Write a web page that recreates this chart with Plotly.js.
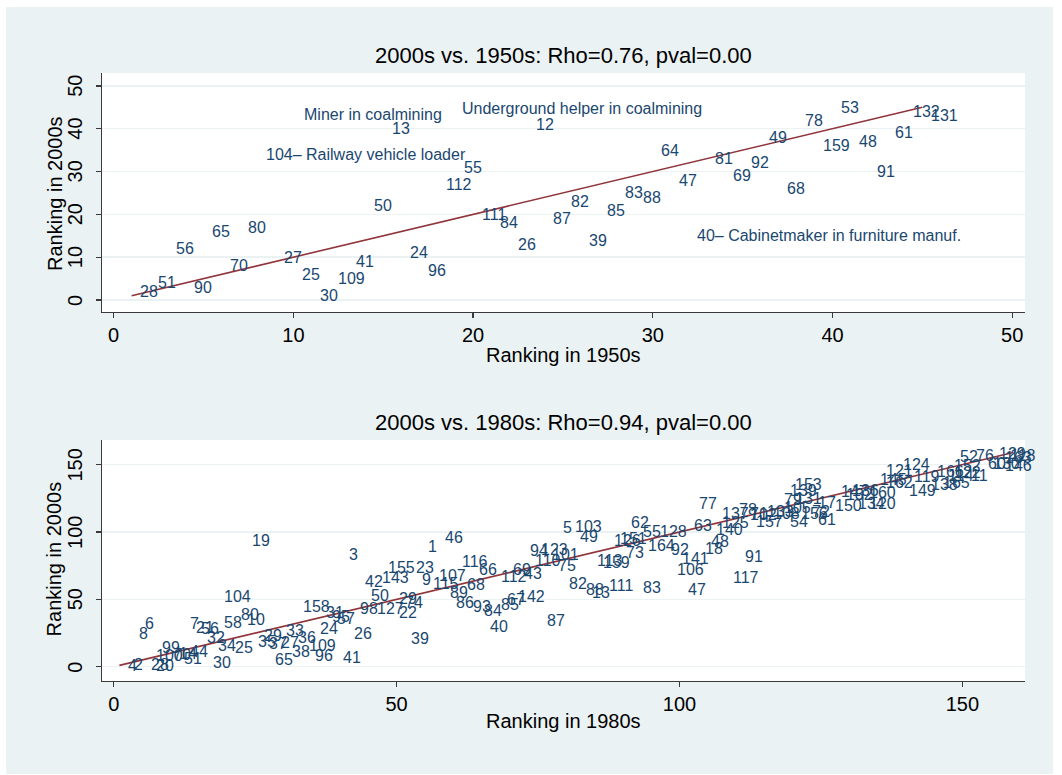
<!DOCTYPE html>
<html>
<head>
<meta charset="utf-8">
<script src="https://cdn.plot.ly/plotly-3.0.1.min.js"></script>
<style>
html,body{margin:0;padding:0;background:#ffffff;}
#chart{position:absolute;left:6px;top:7px;width:1047px;height:767px;}
</style>
</head>
<body>
<div id="chart"></div>
<script>
// ---------- Panel 1: 2000s vs 1950s ----------
const title1 = "2000s vs. 1950s: Rho=0.76, pval=0.00";
const xTitle1 = "Ranking in 1950s";
const codes1 = ["28","51","90","56","65","80","70","27","25","30","109","41","50","13",
  "104\u2013 Railway vehicle loader","24","96","112","55","111","84","26","12","87","82","39","85",
  "83","88","64","47","40\u2013 Cabinetmaker in furniture manuf.","81","69","92","49","68","78",
  "159","53","48","91","61","132","131"];
const rank1950 = [1,2,4,3,5,7,6,9,10,11,12,13,14,15,8,16,17,18,19,20,21,22,23,24,25,26,27,28,29,30,31,32,33,34,35,36,37,38,39,40,41,42,43,44,45];
const rank2000a = [2,4,3,12,16,17,8,10,6,1,5,9,22,40,34,11,7,27,31,20,18,13,41,19,23,14,21,25,24,35,28,15,33,29,32,38,26,42,36,45,37,30,39,44,43];
const notes1 = ["Miner in coalmining","Underground helper in coalmining"];
const notesX1 = [10.1, 18.9];
const notesY1 = [43.2, 44.6];
const lineX1 = [1, 45];
const lineY1 = [1, 45];

// ---------- Panel 2: 2000s vs 1980s ----------
const title2 = "2000s vs. 1980s: Rho=0.94, pval=0.00";
const xTitle2 = "Ranking in 1980s";
const yTitle = "Ranking in 2000s";
const yTicks1 = [0,10,20,30,40,50];
const yTicks2 = [0,50,100,150];
const codes2 = ["19","104","80","58","10","6","8","7","21","56","32","34","25","30","4","2","28","20","99","100","70","14","44","51",
  "3","1","46","155","23","143","42","9","107","50","127","29","74","22","158","31","95","57","98","24","26","39","109","38","96","41","65","36","33","35","29","37","27",
  "5","103","49","94","123","110","101","75","116","66","115","68","112","69","43","89","86","93","84","85","67","142","40","87","82","88","13","111","113","159","73",
  "62","126","151","55","128","164","92","63","77","141","106","47","18","48","91","117","83","140","125","137","78","71","102","133","157","108","54","105","79",
  "153","139","131","17","72","156","61","150","147","136","132","134","120","160","121","124","162","145","149","119","138","165","114","122","11","166","152",
  "52","76","60","130","129","118","146","163"];
const rank1980 = [23,18,21,18,22,4,3,12,13,14,15,17,20,16,1,2,5,6,7,6,9,10,12,11,
  40,54,57,47,52,46,43,53,56,44,45,49,50,49,32,36,37,38,42,35,41,51,33,30,34,39,27,31,29,24,25,26,28,
  78,80,81,72,74,73,76,77,60,63,55,61,67,69,71,58,59,62,64,67,68,70,65,75,79,82,83,86,84,85,89,
  90,87,88,92,95,93,97,101,102,99,98,100,103,104,110,108,92,105,106,106,109,111,111,114,112,115,118,117,117,
  119,118,119,123,122,120,123,126,127,129,128,130,132,132,135,138,135,134,139,140,143,145,146,147,150,144,147,
  148,151,153,154,155,157,156,156];
const rank2000b = [94,52,39,33,35,32,25,32,29,28,22,16,14,3,1,2,2,1,14,8,9,10,11,6,
  83,89,96,74,74,66,63,65,68,53,43,51,48,40,45,40,37,36,43,28,25,21,16,11,8,7,5,22,27,19,23,17,18,
  103,104,97,86,87,79,83,75,78,72,62,61,67,72,69,55,48,45,42,46,50,52,30,34,62,57,55,60,79,77,85,
  107,94,95,100,100,90,87,105,121,80,72,57,88,93,82,66,59,102,107,114,117,114,113,115,108,114,108,118,124,
  135,131,125,122,115,114,109,120,130,131,128,121,121,129,146,150,137,139,131,141,135,137,142,144,142,145,149,
  156,157,151,151,158,157,149,155];
const lineX2 = [1, 159];
const lineY2 = [1, 159];

// ---------- styling ----------
const FONT = "Liberation Sans, Arial, Helvetica, sans-serif";
const LABEL_COLOR = "#1a476f";
const LINE_COLOR = "#90353b";
const AXIS_COLOR = "#3a3a3a";
const GRID_COLOR = "#eaf2f3";
const BG = "#eaf2f3";

const traces = [
  {x: lineX1, y: lineY1, xaxis: "x", yaxis: "y", mode: "lines", line: {color: LINE_COLOR, width: 1.6}, hoverinfo: "skip", showlegend: false},
  {x: lineX2, y: lineY2, xaxis: "x2", yaxis: "y2", mode: "lines", line: {color: LINE_COLOR, width: 1.6}, hoverinfo: "skip", showlegend: false}
];

const annotations = [];
function addLabels(texts, xs, ys, xref, yref) {
  for (let i = 0; i < texts.length; i++) {
    annotations.push({
      x: xs[i], y: ys[i], xref: xref, yref: yref, text: texts[i],
      showarrow: false, xanchor: "left", yanchor: "middle", xshift: 8.5,
      borderpad: 0, borderwidth: 0,
      font: {family: FONT, size: 16, color: LABEL_COLOR}
    });
  }
}
addLabels(codes1, rank1950, rank2000a, "x", "y");
addLabels(notes1, notesX1, notesY1, "x", "y");
addLabels(codes2, rank1980, rank2000b, "x2", "y2");

// y-axis tick labels, rotated, placed on the axis scale at the tick values
function addYTickLabels(vals, yref, xpaper) {
  for (let i = 0; i < vals.length; i++) {
    annotations.push({
      x: xpaper, y: vals[i], xref: "paper", yref: yref, text: String(vals[i]),
      showarrow: false, xanchor: "center", yanchor: "middle", textangle: -90,
      borderpad: 0, borderwidth: 0,
      font: {family: FONT, size: 20, color: "#000000"}
    });
  }
}
addYTickLabels(yTicks1, "y", -0.0293);
addYTickLabels(yTicks2, "y2", -0.0293);

function paperText(text, x, y, size, angle) {
  annotations.push({
    text: text, x: x, y: y, xref: "paper", yref: "paper", showarrow: false,
    xanchor: "center", yanchor: "middle", textangle: angle || 0,
    font: {family: FONT, size: size, color: "#000000"}
  });
}
paperText(title1, 0.5, 1.028, 22);
paperText(title2, 0.5, 0.4252, 22);
paperText(xTitle1, 0.5, 0.5362, 20);
paperText(xTitle2, 0.5, -0.0658, 20);
paperText(yTitle, -0.051, 0.8026, 20, -90);
paperText(yTitle, -0.051, 0.2015, 20, -90);

function axisBase(extra) {
  return Object.assign({
    showline: true, linecolor: AXIS_COLOR, linewidth: 1.3,
    ticks: "outside", ticklen: 5, tickwidth: 1.3, tickcolor: AXIS_COLOR,
    zeroline: false, mirror: false, fixedrange: true,
    tickfont: {family: FONT, size: 20, color: "#000000"},
    tickmode: "array"
  }, extra);
}

const layout = {
  width: 1047, height: 767,
  paper_bgcolor: BG, plot_bgcolor: "#ffffff",
  margin: {l: 96, r: 28, t: 66, b: 93},
  showlegend: false,
  xaxis: axisBase({domain: [0, 1], anchor: "y", range: [-0.65, 50.71], tickvals: [0,10,20,30,40,50], showgrid: false}),
  yaxis: axisBase({domain: [0.6069, 1], anchor: "x", range: [-2.8, 53.0], tickvals: yTicks1,
    showgrid: true, gridcolor: GRID_COLOR, gridwidth: 1.5, showticklabels: false}),
  xaxis2: axisBase({domain: [0, 1], anchor: "y2", range: [-2.07, 161.08], tickvals: [0,50,100,150], showgrid: false}),
  yaxis2: axisBase({domain: [0, 0.3964], anchor: "x2", range: [-10.6, 168.3], tickvals: yTicks2,
    showgrid: true, gridcolor: GRID_COLOR, gridwidth: 1.5, showticklabels: false}),
  annotations: annotations
};

Plotly.newPlot("chart", traces, layout, {displayModeBar: false, staticPlot: true});
</script>
</body>
</html>
